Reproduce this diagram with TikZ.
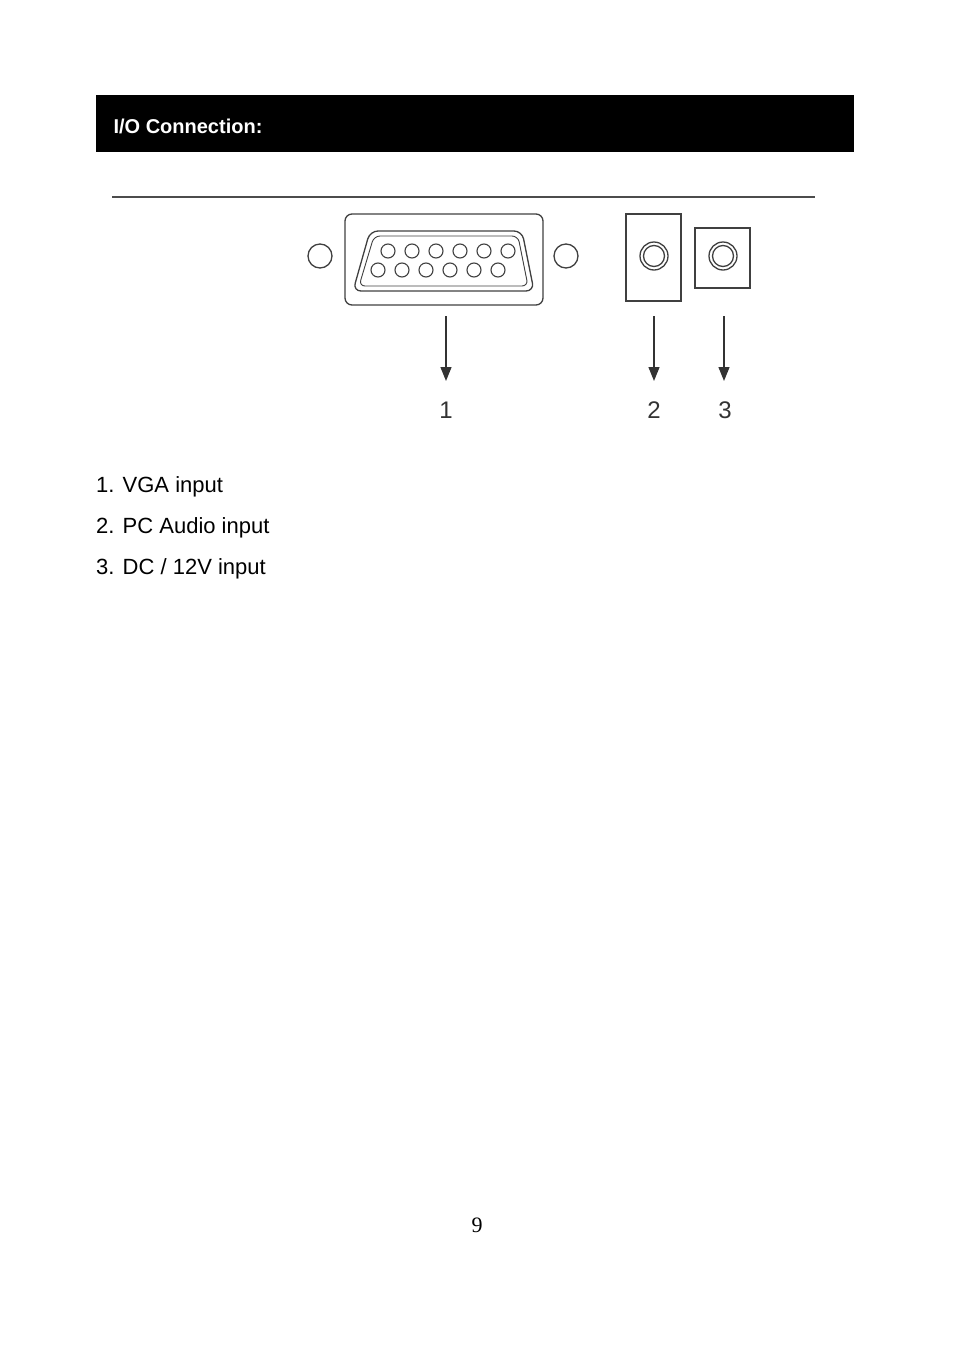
\documentclass[tikz,border=0pt]{standalone}
\usepackage{fontspec}
\setmainfont{Liberation Sans}
\newfontfamily\serifpage{Liberation Serif}
\usetikzlibrary{arrows.meta}
\begin{document}
\begin{tikzpicture}[x=1pt,y=-1pt,
  ln/.style={draw=black!75,line width=1.3pt},
  pin/.style={ln,line width=1.1pt},
  arr/.style={draw=black!80,line width=1.3pt,-{Triangle[length=14pt,width=11pt]}},
  lbl/.style={font=\fontsize{22}{26}\selectfont,anchor=base west,inner sep=0pt}]
\useasboundingbox (0,0) rectangle (954,1352);
\fill[black] (96,95) rectangle (854,152);
\node[anchor=west,text=white,font=\bfseries\fontsize{20}{24}\selectfont] (hdr) at (110,126) {I/O Connection:};
\draw[black!70,line width=1.2pt] (112,197) -- (815,197);
% VGA
\draw[ln,rounded corners=7pt] (345,214) rectangle (543,305);
\draw[ln] (320,256) circle (12);
\draw[ln] (566,256) circle (12);
\draw[ln,rounded corners=8pt] (370,231) -- (522,231) -- (534,291) -- (353,291) -- cycle;
\draw[ln,line width=0.9pt,rounded corners=6pt] (374,236) -- (518,236) -- (528,286) -- (359,286) -- cycle;
\foreach \x in {388,412,436,460,484,508} \draw[pin] (\x,251) circle (7);
\foreach \x in {378,402,426,450,474,498} \draw[pin] (\x,270) circle (7);
% audio
\draw[ln] (626,214) rectangle (681,301);
\draw[ln] (654,256) circle (14); \draw[ln] (654,256) circle (10.5);
% DC
\draw[ln] (695,228) rectangle (750,288);
\draw[ln] (723,256) circle (14); \draw[ln] (723,256) circle (10.5);
\coordinate (a1) at (446,316); \coordinate (b1) at (446,381);
\coordinate (a2) at (654,316); \coordinate (b2) at (654,381);
\coordinate (a3) at (724,316); \coordinate (b3) at (724,381);
\draw[arr] (a1) -- (b1); \draw[arr] (a2) -- (b2); \draw[arr] (a3) -- (b3);
\node[font=\fontsize{24}{28}\selectfont,text=black!80] (n1) at (446,410) {1};
\node[font=\fontsize{24}{28}\selectfont,text=black!80] (n2) at (654,410) {2};
\node[font=\fontsize{24}{28}\selectfont,text=black!80] (n3) at (725,410) {3};
\node[lbl] (l1) at (96,492) {1. VGA input};
\node[lbl] (l2) at (96,533) {2. PC Audio input};
\node[lbl] (l3) at (96,574) {3. DC / 12V input};
\node[font=\serifpage\fontsize{22}{26}\selectfont] (pg) at (477,1225) {9};
\end{tikzpicture}
\end{document}
